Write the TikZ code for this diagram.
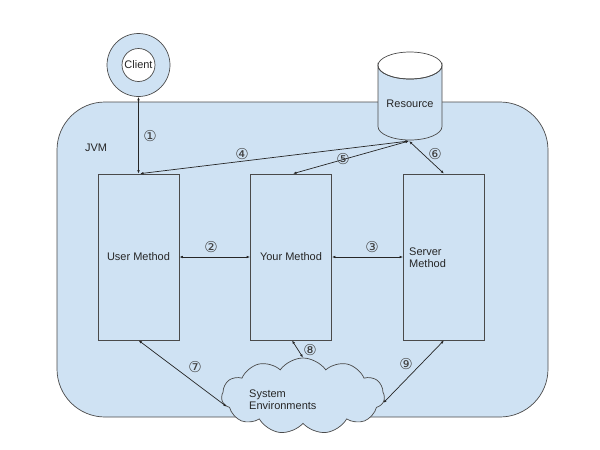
\documentclass[tikz,border=0pt]{standalone}
\usepackage{fontspec}
\setmainfont{Liberation Sans}
\newfontfamily\symfont{DejaVu Sans}
\usetikzlibrary{shapes.geometric,shapes.symbols,arrows.meta}
\definecolor{jvmfill}{HTML}{CFE2F3}
\definecolor{edge}{HTML}{4A4A4A}
\definecolor{conn}{HTML}{262626}
\tikzset{
  methodbox/.style={draw=edge, line width=0.7pt, fill=jvmfill, minimum width=81pt, minimum height=166pt, inner sep=0pt},
  link/.style={{Latex[length=3.5pt,width=2.6pt]}-{Latex[length=3.5pt,width=2.6pt]}, draw=conn, line width=0.7pt},
  num/.style={font=\symfont\fontsize{15}{15}\selectfont, text=black!75, inner sep=0pt},
  lbl/.style={font=\fontsize{11}{13}\selectfont, text=black!85, inner sep=0pt},
  shapeline/.style={draw=edge, line width=0.7pt}
}
\begin{document}
\begin{tikzpicture}[x=1pt,y=-1pt]
\useasboundingbox (0,0) rectangle (600,450);
% JVM container
\draw[shapeline, fill=jvmfill, rounded corners=48pt] (57,102) rectangle (548,417);
\node[lbl, anchor=center] (jvm) at (96,148) {JVM};
% Client donut
\node[circle, shapeline, fill=jvmfill, minimum size=63pt, inner sep=0pt] (clientouter) at (138.5,65) {};
\node[circle, shapeline, fill=white, minimum size=33pt, inner sep=0pt, lbl] (client) at (138.5,65) {Client};
% Resource cylinder
\path[shapeline, fill=jvmfill] (378,65.5) -- (378,126.5) arc[start angle=180, end angle=0, x radius=32, y radius=13.5] -- (442,65.5) arc[start angle=0, end angle=180, x radius=32, y radius=13.5] -- cycle;
\draw[shapeline] (410,65.5) ellipse[x radius=32, y radius=13.5];
\node[lbl] (res) at (410,104) {Resource};
\coordinate (resbot) at (409,141);
% Method boxes
\node[methodbox, lbl] (um) at (138.5,257) {User Method};
\node[methodbox, lbl] (ym) at (291,257) {Your Method};
\node[methodbox] (sm) at (444,257) {};
\node[lbl, anchor=west, align=left] (smtext) at (409,257.5) {Server\\[-1pt]Method};
% Cloud
\node[cloud, cloud puffs=11, cloud puff arc=110, aspect=2.2, shapeline, fill=jvmfill, minimum width=163pt, minimum height=76pt, inner sep=0pt] (cl) at (303,396) {};
\node[lbl, anchor=west, align=left] (cltext) at (249,400) {System\\[-1pt]Environments};
% Connectors
\draw[link] (clientouter.south) -- (um.north);
\draw[link] (resbot) -- ([xshift=1.5pt]um.north);
\draw[link] (resbot) -- ([xshift=2pt]ym.north);
\draw[link] (resbot) -- (sm.north);
\draw[link] (um.east) -- (ym.west);
\draw[link] (ym.east) -- (sm.west);
\draw[link] (um.south) -- (cl.188);
\draw[link] ([xshift=1pt]ym.south) -- (cl.north);
\draw[link] (sm.south) -- (cl.355);
% Numbers
\node[num] (n1) at (150,136) {①};
\node[num] (n2) at (211,247) {②};
\node[num] (n3) at (372,247) {③};
\node[num] (n4) at (242,154) {④};
\node[num] (n5) at (343,159) {⑤};
\node[num] (n6) at (435,154) {⑥};
\node[num] (n7) at (195,367) {⑦};
\node[num] (n8) at (310,350) {⑧};
\node[num] (n9) at (406,364) {⑨};
\end{tikzpicture}
\end{document}
